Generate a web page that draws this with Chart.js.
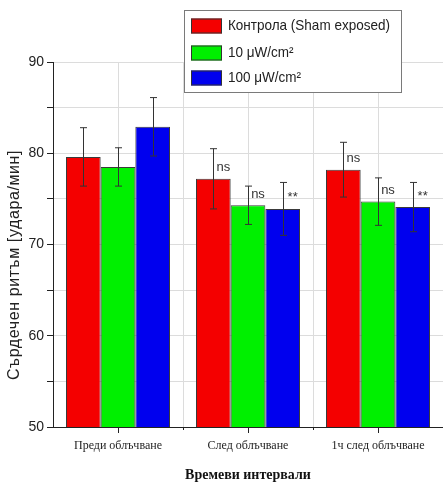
<!DOCTYPE html>
<html>
<head>
<meta charset="utf-8">
<script src="https://cdn.jsdelivr.net/npm/chart.js@4"></script>
<style>
    body { margin: 0; background: #fff; }
    canvas { display: block; }
</style>
</head>
<body>
<canvas id="hrChart" width="443" height="482"></canvas>
<script>
const categories = ["Преди облъчване", "След облъчване", "1ч след облъчване"];

const seriesLabels = ["Контрола (Sham exposed)", "10 μW/cm²", "100 μW/cm²"];
const seriesColors = ["#f40000", "#00f000", "#0000ee"];

const controlValues = [79.6, 77.2, 78.2];
const controlErrors = [3.2, 3.3, 3.0];
const controlMarks = ["", "ns", "ns"];

const low10Values = [78.5, 74.3, 74.7];
const low10Errors = [2.1, 2.1, 2.6];
const low10Marks = ["", "ns", "ns"];

const high100Values = [82.9, 73.9, 74.1];
const high100Errors = [3.2, 2.9, 2.7];
const high100Marks = ["", "**", "**"];

const yMin = 50;
const yMax = 90;
const yStep = 5;

const yTitle = "Сърдечен ритъм [удара/мин]";
const xTitle = "Времеви интервали";

const errorLists = [controlErrors, low10Errors, high100Errors];
const markLists = [controlMarks, low10Marks, high100Marks];

// extra grid lines between the groups, error bars, ns / ** marks, legend and y title
const extrasPlugin = {
    id: "extras",
    beforeDatasetsDraw(chart) {
        const ctx = chart.ctx;
        const x = chart.scales.x;
        const area = chart.chartArea;
        ctx.save();
        ctx.lineWidth = 1;
        for (let i = 0; i < categories.length - 1; i++) {
            const px = Math.round((x.getPixelForValue(i) + x.getPixelForValue(i + 1)) / 2) + 0.5;
            ctx.strokeStyle = "#dcdcdc";
            ctx.beginPath();
            ctx.moveTo(px, area.top);
            ctx.lineTo(px, area.bottom);
            ctx.stroke();
            // small tick on the bottom axis
            ctx.strokeStyle = "#222";
            ctx.beginPath();
            ctx.moveTo(px, area.bottom);
            ctx.lineTo(px, area.bottom + 3);
            ctx.stroke();
        }
        ctx.restore();
    },
    afterDatasetsDraw(chart) {
        const ctx = chart.ctx;
        const y = chart.scales.y;
        ctx.save();
        chart.data.datasets.forEach((ds, i) => {
            const meta = chart.getDatasetMeta(i);
            meta.data.forEach((bar, j) => {
                const v = ds.data[j];
                const e = errorLists[i][j];
                const top = y.getPixelForValue(v + e);
                const bot = y.getPixelForValue(v - e);
                const bx = Math.round(bar.x) + 0.5;
                ctx.strokeStyle = "#333";
                ctx.lineWidth = 1;
                ctx.beginPath();
                ctx.moveTo(bx, top);
                ctx.lineTo(bx, bot);
                ctx.moveTo(bx - 3.5, top);
                ctx.lineTo(bx + 3.5, top);
                ctx.moveTo(bx - 3.5, bot);
                ctx.lineTo(bx + 3.5, bot);
                ctx.stroke();

                const mark = markLists[i][j];
                if (mark) {
                    ctx.fillStyle = "#333";
                    ctx.font = "13px 'Liberation Sans', Arial, sans-serif";
                    ctx.textAlign = "center";
                    ctx.textBaseline = "middle";
                    ctx.fillText(mark, bar.x + 10, bar.y - 11);
                }
            });
        });
        ctx.restore();
    },
    afterDraw(chart) {
        const ctx = chart.ctx;
        ctx.save();

        // y axis title
        ctx.translate(15, 265);
        ctx.rotate(-Math.PI / 2);
        ctx.fillStyle = "#222";
        ctx.font = "16px 'Liberation Sans', Arial, sans-serif";
        ctx.letterSpacing = "0.6px";
        ctx.textAlign = "center";
        ctx.textBaseline = "middle";
        ctx.fillText(yTitle, 0, 0);
        ctx.letterSpacing = "0px";
        ctx.setTransform(1, 0, 0, 1, 0, 0);

        // legend box
        ctx.fillStyle = "#fff";
        ctx.fillRect(184, 10, 217, 82);
        ctx.strokeStyle = "#7a7a7a";
        ctx.lineWidth = 1;
        ctx.strokeRect(184.5, 10.5, 217, 82);
        const rows = [26, 53, 78];
        chart.data.datasets.forEach((ds, i) => {
            ctx.fillStyle = ds.backgroundColor;
            ctx.fillRect(191, rows[i] - 7.5, 31, 15);
            ctx.strokeStyle = "#333";
            ctx.strokeRect(191.5, rows[i] - 7, 30, 14);
            ctx.save();
            ctx.translate(228, rows[i]);
            ctx.scale(0.9, 1);
            ctx.fillStyle = "#222";
            ctx.font = "15px 'Liberation Sans', Arial, sans-serif";
            ctx.textAlign = "left";
            ctx.textBaseline = "middle";
            ctx.fillText(ds.label, 0, 0);
            ctx.restore();
        });
        ctx.restore();
    }
};

new Chart(document.getElementById("hrChart").getContext("2d"), {
    type: "bar",
    data: {
        labels: categories,
        datasets: [
            { label: seriesLabels[0], data: controlValues, backgroundColor: seriesColors[0] },
            { label: seriesLabels[1], data: low10Values, backgroundColor: seriesColors[1] },
            { label: seriesLabels[2], data: high100Values, backgroundColor: seriesColors[2] }
        ].map(ds => Object.assign(ds, {
            borderColor: "#3a3a3a",
            borderWidth: 1,
            categoryPercentage: 0.8,
            barPercentage: 1.0
        }))
    },
    options: {
        responsive: false,
        devicePixelRatio: 1,
        animation: false,
        layout: { padding: { top: 62, right: 0, left: 0, bottom: 0 } },
        plugins: {
            legend: { display: false },
            tooltip: { enabled: false }
        },
        scales: {
            x: {
                afterFit: s => { s.height = 55; },
                grid: {
                    offset: false,
                    color: "#dcdcdc",
                    tickColor: "#222",
                    tickLength: 6
                },
                border: { color: "#222", width: 1 },
                ticks: {
                    color: "#222",
                    padding: 6,
                    font: { family: "'Liberation Serif', 'Times New Roman', serif", size: 12 }
                },
                title: {
                    display: true,
                    text: xTitle,
                    color: "#111",
                    padding: { top: 4, bottom: -2 },
                    font: { family: "'Liberation Serif', 'Times New Roman', serif", size: 14, weight: "bold" }
                }
            },
            y: {
                min: yMin,
                max: yMax,
                afterFit: s => { s.width = 53; },
                grid: {
                    color: "#dcdcdc",
                    tickColor: "#222",
                    tickLength: 6
                },
                border: { color: "#222", width: 1 },
                ticks: {
                    stepSize: yStep,
                    color: "#222",
                    padding: 3,
                    font: { family: "'Liberation Sans', Arial, sans-serif", size: 14 },
                    callback: v => (v % 10 === 0 ? v : "")
                }
            }
        }
    },
    plugins: [extrasPlugin]
});
</script>
</body>
</html>
